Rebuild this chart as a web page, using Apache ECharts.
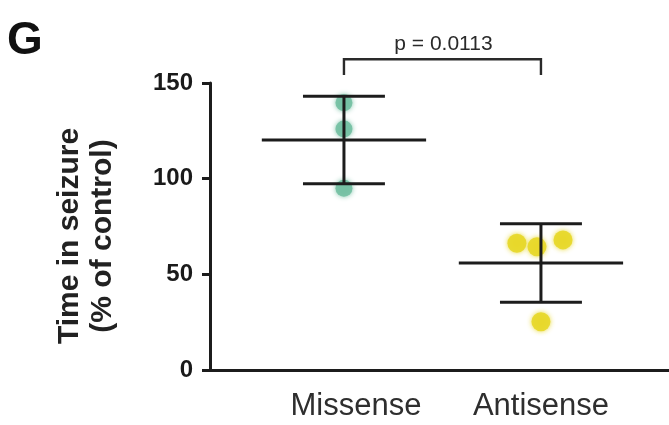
<!DOCTYPE html>
<html>
<head>
<meta charset="utf-8">
<script src="https://cdn.jsdelivr.net/npm/echarts@6/dist/echarts.min.js"></script>
<style>
  html, body { margin: 0; padding: 0; background: #fff; }
  #chart { width: 669px; height: 425px; }
</style>
</head>
<body>
<div id="chart"></div>
<script>
// Groups on the x axis (placed at x = 1 and x = 2)
const categories = ['Missense', 'Antisense'];
const categoryX = [1, 2];

// Individual measurements, time in seizure (% of control)
const missenseValues = [139.7, 126.0, 95.0];
const antisenseValues = [66.2, 64.4, 68.0, 25.2];

// Horizontal scatter of the dots around each group centre (x units)
const missenseJitter = [0, 0, 0];
const antisenseJitter = [-0.122, -0.02, 0.112, 0];

// Y axis ticks
const yTicks = [0, 50, 100, 150];

// Comparison annotation
const pLabel = 'p = 0.0113';

const groupValues = [missenseValues, antisenseValues];
const groupJitter = [missenseJitter, antisenseJitter];
const groupColors = ['#74c0a3', '#e7d82a'];

function mean(a) { return a.reduce((s, v) => s + v, 0) / a.length; }
function sd(a) {
  const m = mean(a);
  return Math.sqrt(a.reduce((s, v) => s + (v - m) * (v - m), 0) / (a.length - 1));
}

const summary = groupValues.map((vals, i) => [categoryX[i], mean(vals), sd(vals)]);

const ink = '#1c1c1c';

const scatterSeries = groupValues.map((vals, i) => ({
  type: 'scatter',
  name: categories[i],
  z: 2,
  symbolSize: i === 0 ? 17 : 19,
  itemStyle: {
    color: groupColors[i],
    opacity: 0.92,
    shadowBlur: 5,
    shadowColor: groupColors[i]
  },
  data: vals.map((v, k) => [categoryX[i] + groupJitter[i][k], v])
}));

// Mean line with SD whiskers and caps
const errorSeries = {
  type: 'custom',
  z: 5,
  clip: false,
  data: summary,
  renderItem: function (params, api) {
    const x = api.value(0), m = api.value(1), s = api.value(2);
    const c = api.coord([x, m]);
    const hi = api.coord([x, m + s]);
    const lo = api.coord([x, m - s]);
    const unit = api.size([1, 0])[0];
    const meanHalf = 0.417 * unit;
    const capHalf = 0.208 * unit;
    const st = { stroke: ink, lineWidth: 3 };
    return {
      type: 'group',
      children: [
        { type: 'line', shape: { x1: c[0] - meanHalf, y1: c[1], x2: c[0] + meanHalf, y2: c[1] }, style: st },
        { type: 'line', shape: { x1: c[0], y1: hi[1], x2: c[0], y2: lo[1] }, style: st },
        { type: 'line', shape: { x1: c[0] - capHalf, y1: hi[1], x2: c[0] + capHalf, y2: hi[1] }, style: st },
        { type: 'line', shape: { x1: c[0] - capHalf, y1: lo[1], x2: c[0] + capHalf, y2: lo[1] }, style: st }
      ]
    };
  }
};

// Significance bracket between the two groups
const bracketSeries = {
  type: 'custom',
  z: 5,
  clip: false,
  data: [[categoryX[0], categoryX[1]]],
  renderItem: function (params, api) {
    const a = api.coord([api.value(0), 162.4]);
    const b = api.coord([api.value(1), 162.4]);
    const foot = api.coord([api.value(0), 154.2])[1];
    const txt = api.coord([(api.value(0) + api.value(1)) / 2, 170.2]);
    return {
      type: 'group',
      children: [
        {
          type: 'polyline',
          shape: { points: [[a[0], foot], [a[0], a[1]], [b[0], b[1]], [b[0], foot]] },
          style: { stroke: '#2a2a2a', lineWidth: 2.4, fill: null }
        },
        {
          type: 'text',
          style: {
            text: pLabel, x: txt[0] + 1, y: txt[1],
            font: '21px "Liberation Sans", Arial, sans-serif',
            fill: '#2a2a2a', align: 'center', verticalAlign: 'middle'
          }
        }
      ]
    };
  }
};

const chart = echarts.init(document.getElementById('chart'), null, { renderer: 'canvas' });

chart.setOption({
  backgroundColor: '#ffffff',
  animation: false,
  grid: { left: 210, right: 0, top: 83, bottom: 55 },
  graphic: [
    {
      type: 'text', left: 7, top: 18,
      style: { text: 'G', font: 'bold 46px "Liberation Sans", Arial, sans-serif', fill: '#111' }
    },
    {
      type: 'text', x: 86, y: 236, rotation: Math.PI / 2,
      style: {
        text: 'Time in seizure\n(% of control)',
        font: 'bold 30px "Liberation Sans", Arial, sans-serif',
        lineHeight: 33, fill: '#222', align: 'center', verticalAlign: 'middle'
      }
    }
  ],
  xAxis: {
    type: 'value',
    min: 0.32,
    max: 2.65,
    splitLine: { show: false },
    axisLine: { show: true, onZero: false, lineStyle: { color: ink, width: 3 } },
    axisTick: { show: false },
    axisLabel: {
      customValues: categoryX,
      formatter: function (v) {
        const i = categoryX.indexOf(v);
        return i === 0 ? '{shift|' + categories[i] + '}' : (i >= 0 ? categories[i] : '');
      },
      margin: 21,
      color: '#2e2e2e',
      fontSize: 31,
      fontFamily: '"Liberation Sans", Arial, sans-serif',
      rich: {
        shift: { fontSize: 31, color: '#2e2e2e', padding: [0, 0, 0, 24], fontFamily: '"Liberation Sans", Arial, sans-serif' }
      }
    }
  },
  yAxis: {
    type: 'value',
    min: yTicks[0],
    max: yTicks[yTicks.length - 1],
    interval: yTicks[1] - yTicks[0],
    splitLine: { show: false },
    axisLine: { show: true, lineStyle: { color: ink, width: 3 } },
    axisTick: { show: true, length: 8, lineStyle: { color: ink, width: 3 } },
    axisLabel: {
      margin: 17,
      color: '#1a1a1a',
      fontSize: 24,
      fontWeight: 'bold',
      fontFamily: '"Liberation Sans", Arial, sans-serif'
    }
  },
  series: scatterSeries.concat([errorSeries, bracketSeries])
});
</script>
</body>
</html>
